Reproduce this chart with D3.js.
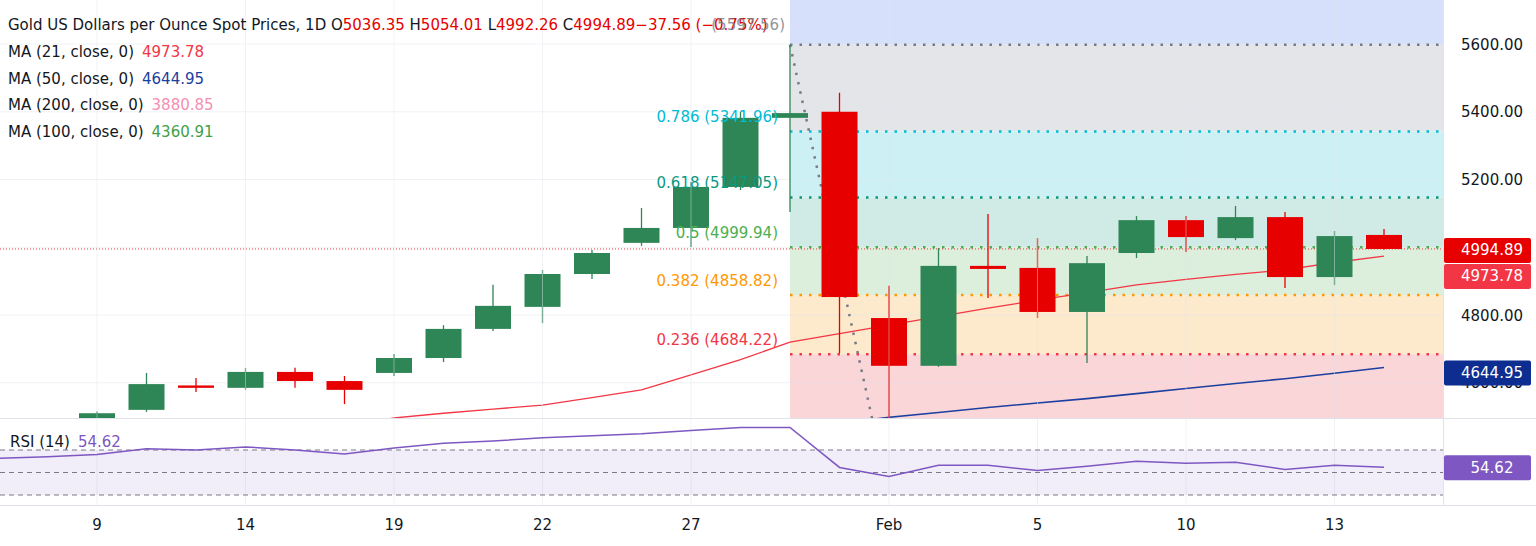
<!DOCTYPE html>
<html><head><meta charset="utf-8">
<script src="https://cdn.jsdelivr.net/npm/d3@7"></script>
<style>body{margin:0;background:#fff}svg{display:block;font-family:"DejaVu Sans",sans-serif}</style>
</head><body><svg id="c" width="1536" height="546"></svg>
<script>
const dates=["Jan 7","Jan 8","9","12","13","14","15","16","19","20","21","22","23","26","27","28","29","30","Feb","3","4","5","6","9","10","11","12","13","16"];
const tickLabels={2:"9",5:"14",8:"19",11:"22",14:"27",18:"Feb",21:"5",24:"10",27:"13"};
const open =[null,null,4490,4520,4592,4585,4632,4605,4629,4673,4759,4824,4921,5013,5057,5178,5382,5400,4791,4650,4945,4939,4809,4983,5080,5027,5089,4912,5036.35];
const high =[null,null,4515,4629,4614,4644,4644,4620,4685,4770,4889,4933,4992,5116,5193,5400,5597.56,5456,4886,4998,5098,5027,4974,5092,5092,5122,5104,5048,5054.01];
const low  =[null,null,4480,4514,4573,4579,4585,4537,4620,4661,4753,4776,4906,5004,5001,5169,5104,4688,4402.32,4647,4850,4791,4658,4968,4986,5021,4880,4888,4992.26];
const close=[null,null,4510,4596,4585,4632,4605,4579,4673,4759,4827,4921,4983,5057,5178,5382,5396,4853,4650,4945,4936,4809,4953,5080,5030,5089,4912,5033,4994.89];
const ma21=[null,null,null,null,null,null,null,4470,4496,4510,4522,4534,4556,4579,4623,4668,4720,4745,4770,4795,4820,4844,4866,4889,4905,4920,4933,4955,4973.78];
const ma50=[null,null,null,null,null,null,null,null,null,null,null,null,null,null,null,null,null,4480,4498,4512,4527,4540,4553,4568,4583,4598,4612,4628,4644.95];
const rsi=[62.5,64,66,71,70,72.7,70,66.4,71.8,76,78,80.9,82.7,84.5,87.3,90,90,54.5,46.4,56.4,56.4,51.8,55.5,60,58.2,59,52.7,56.4,54.62];
const fibRatios=["1","0.786","0.618","0.5","0.382","0.236","0"];
const fibPrices=[5597.56,5341.96,5147.05,4999.94,4858.82,4684.22,4402.32];
const fibColors=["#787b86","#00bcd4","#089981","#4caf50","#ff9800","#f23645","#787b86"];
const fibFills=["#e4e5e9","#ccf0f3","#d0ebe5","#dcefdc","#fde9cb","#fad6d8"];
const priceTicks=[4600,4800,5000,5200,5400,5600];
const maLegend=[["MA (21, close, 0)","4973.78","#f23645"],["MA (50, close, 0)","4644.95","#1c3fa0"],["MA (200, close, 0)","3880.85","#f48fb1"],["MA (100, close, 0)","4360.91","#43a047"]];

const svg=d3.select("#c");
const W=1443, paneB=418, FS=15;
const x=d3.scaleLinear().domain([2,28]).range([97,1384]);
const y=d3.scaleLinear().domain([4800,5600]).range([315,44]);
const yr=d3.scaleLinear().domain([30,70]).range([495,450]);
const fibX0=x(16), fibX1=W;
const defs=svg.append("defs");
defs.append("clipPath").attr("id","cp").append("rect").attr("x",0).attr("y",0).attr("width",W).attr("height",paneB);
defs.append("clipPath").attr("id","cr").append("rect").attr("x",0).attr("y",paneB).attr("width",W).attr("height",100);
const g=svg.append("g").attr("clip-path","url(#cp)");
// fib bands
g.append("rect").attr("x",fibX0).attr("y",0).attr("width",fibX1-fibX0).attr("height",y(fibPrices[0])).attr("fill","#d6e0fb");
for(let k=0;k<6;k++){g.append("rect").attr("x",fibX0).attr("width",fibX1-fibX0).attr("y",y(fibPrices[k])).attr("height",y(fibPrices[k+1])-y(fibPrices[k])).attr("fill",fibFills[k]);}
g.append("rect").attr("x",fibX0).attr("width",fibX1-fibX0).attr("y",y(fibPrices[6])).attr("height",paneB).attr("fill","#fad6d8");
// grid
Object.keys(tickLabels).forEach(i=>{svg.append("line").attr("x1",x(+i)).attr("x2",x(+i)).attr("y1",0).attr("y2",505).attr("stroke","#e0e3eb").attr("stroke-opacity",0.45);});
priceTicks.forEach(p=>g.append("line").attr("x1",0).attr("x2",W).attr("y1",y(p)).attr("y2",y(p)).attr("stroke","#e0e3eb").attr("stroke-opacity",0.45));
fibPrices.forEach((p,k)=>{
 g.append("line").attr("x1",fibX0).attr("x2",fibX1).attr("y1",y(p)).attr("y2",y(p)).attr("stroke",fibColors[k]).attr("stroke-width",2.5).attr("stroke-dasharray","2.5,7");
 if(k>0&&k<6) svg.append("text").attr("x",fibX0-12).attr("y",y(p)-9).attr("text-anchor","end").attr("fill",fibColors[k]).attr("font-size",FS).text(fibRatios[k]+" ("+p.toFixed(2)+")");
});
// trend line
g.append("line").attr("x1",x(16)).attr("y1",y(fibPrices[0])).attr("x2",x(18)-10).attr("y2",y(fibPrices[6])).attr("stroke","#787b86").attr("stroke-width",2.5).attr("stroke-dasharray","2.5,7");
// current price line
g.append("line").attr("x1",0).attr("x2",W).attr("y1",y(4994.89)).attr("y2",y(4994.89)).attr("stroke","#f23645").attr("stroke-dasharray","1,2");
// MAs
const ln=d3.line().defined(d=>d!=null).x((d,i)=>x(i)).y(d=>y(d));
g.append("path").attr("d",ln(ma21)).attr("fill","none").attr("stroke","#f23645").attr("stroke-width",1.3);
g.append("path").attr("d",ln(ma50)).attr("fill","none").attr("stroke","#1c3fa0").attr("stroke-width",1.6);
// candles
const bw=36;
dates.forEach((d,i)=>{
 if(open[i]==null)return;
 const up=close[i]>=open[i], col=up?"#2e8555":"#e60000";
 g.append("line").attr("x1",x(i)).attr("x2",x(i)).attr("y1",y(high[i])).attr("y2",y(low[i])).attr("stroke",col).attr("stroke-width",1.3);
 const t=y(Math.max(open[i],close[i])), b=y(Math.min(open[i],close[i]));
 g.append("rect").attr("x",x(i)-bw/2).attr("y",t).attr("width",bw).attr("height",Math.max(2,b-t)).attr("fill",col);
});
// separators
svg.append("line").attr("x1",0).attr("x2",1536).attr("y1",paneB+0.5).attr("y2",paneB+0.5).attr("stroke","#e0e3eb");
svg.append("line").attr("x1",W+0.5).attr("x2",W+0.5).attr("y1",0).attr("y2",505).attr("stroke","#e0e3eb");
svg.append("line").attr("x1",0).attr("x2",1536).attr("y1",505.5).attr("y2",505.5).attr("stroke","#e0e3eb");
// RSI pane
const gr=svg.append("g").attr("clip-path","url(#cr)");
gr.append("rect").attr("x",0).attr("width",W).attr("y",yr(70)).attr("height",yr(30)-yr(70)).attr("fill","#7e57c2").attr("fill-opacity",0.1);
[70,50,30].forEach(v=>gr.append("line").attr("x1",0).attr("x2",W).attr("y1",yr(v)).attr("y2",yr(v)).attr("stroke","#787b86").attr("stroke-dasharray","5,4"));
gr.append("path").attr("d",d3.line().x((d,i)=>x(i)).y(d=>yr(d))(rsi)).attr("fill","none").attr("stroke","#7e57c2").attr("stroke-width",1.5);
svg.append("text").attr("x",10).attr("y",447).attr("font-size",FS).attr("fill","#131722").text("RSI (14)").append("tspan").attr("dx",8).attr("fill","#7e57c2").text("54.62");
// x axis labels
Object.entries(tickLabels).forEach(([i,l])=>svg.append("text").attr("x",x(+i)).attr("y",530).attr("text-anchor","middle").attr("font-size",FS).attr("fill","#131722").text(l));
// price axis
priceTicks.forEach(p=>{ if(p!==5000) svg.append("text").attr("x",1461).attr("y",y(p)+5.5).attr("font-size",FS).attr("fill","#131722").text(p.toFixed(2));});
function box(v,yy,fill){svg.append("rect").attr("x",1444).attr("y",yy-12).attr("width",87).attr("height",25).attr("rx",2).attr("fill",fill);
 svg.append("text").attr("x",1492).attr("y",yy+5.5).attr("text-anchor","middle").attr("font-size",FS).attr("fill","#fff").text(v);}
box("4994.89",y(4994.89)+1,"#e60000");
box("4973.78",y(4994.89)+27,"#f23645");
box("4644.95",y(4644.95)+5,"#0d2d91");
box("54.62",yr(54.62),"#7e57c2");
// header
const h=svg.append("text").attr("x",8).attr("y",30).attr("font-size",FS).attr("fill","#131722");
h.append("tspan").text("Gold US Dollars per Ounce Spot Prices, 1D  O");
h.append("tspan").attr("fill","#e60000").text("5036.35");h.append("tspan").text("  H");
h.append("tspan").attr("fill","#e60000").text("5054.01");h.append("tspan").text("  L");
h.append("tspan").attr("fill","#e60000").text("4992.26");h.append("tspan").text("  C");
h.append("tspan").attr("fill","#e60000").text("4994.89−37.56 (−0.75%)");
svg.append("text").attr("x",fibX0-5).attr("y",30).attr("text-anchor","end").attr("font-size",FS).attr("fill","#787b86").attr("opacity",0.8).text("("+fibPrices[0].toFixed(2)+")");
maLegend.forEach((m,k)=>{const t=svg.append("text").attr("x",8).attr("y",57+k*26.5).attr("font-size",FS).attr("fill","#131722").text(m[0]);
 t.append("tspan").attr("dx",8).attr("fill",m[2]).text(m[1]);});
</script></body></html>
